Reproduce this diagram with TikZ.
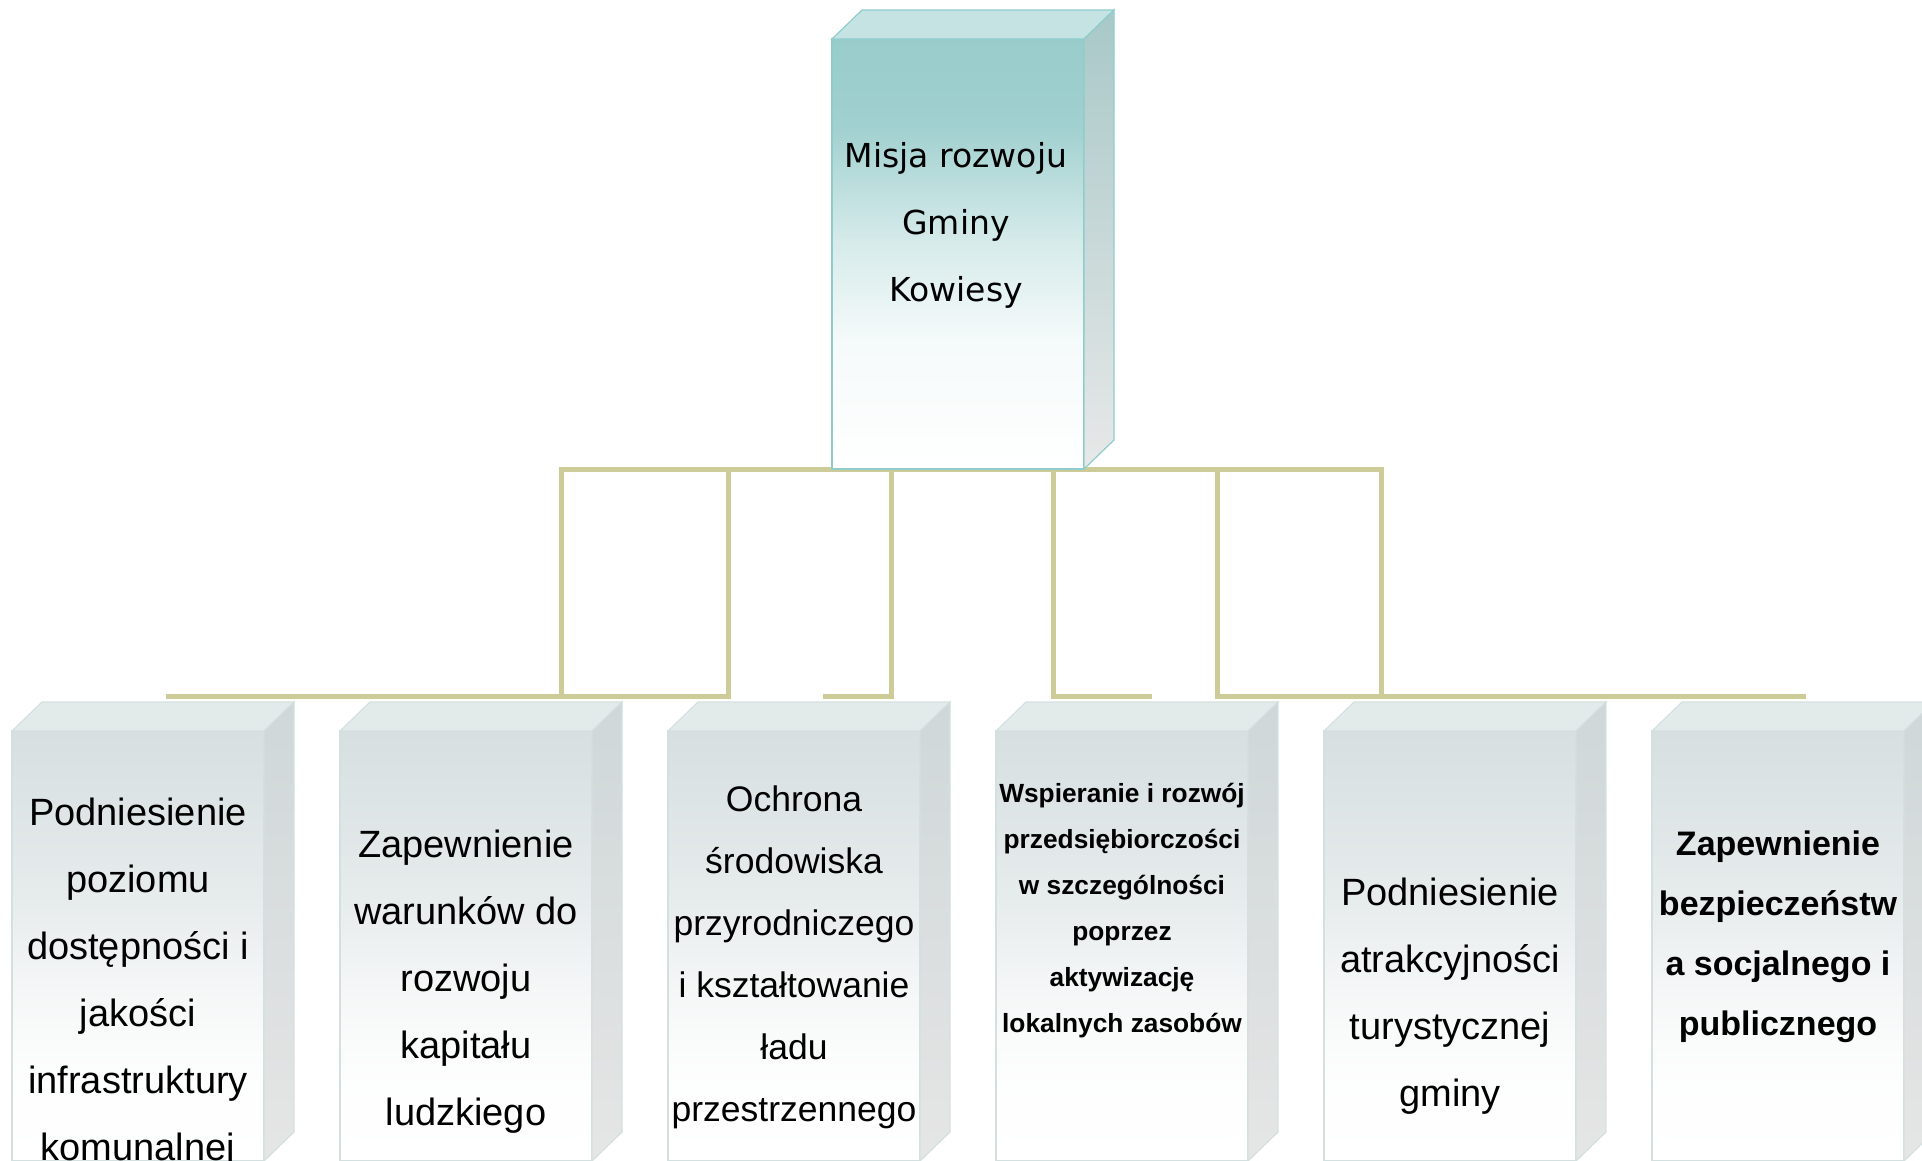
\documentclass[tikz,border=0pt]{standalone}
\usepackage{fontspec}
\setmainfont{Liberation Sans}
\newfontfamily\misjafont{DejaVu Sans}
\definecolor{szyna}{RGB}{205,204,153}
\definecolor{misjagora}{RGB}{152,204,203}
\definecolor{misjarama}{RGB}{143,205,205}
\definecolor{misjawieko}{RGB}{197,227,226}
\definecolor{misjabok}{RGB}{168,200,200}
\definecolor{celgora}{RGB}{215,223,224}
\definecolor{celrama}{RGB}{212,224,224}
\definecolor{celwieko}{RGB}{227,234,234}
\definecolor{celbok}{RGB}{207,215,216}
\pgfdeclareverticalshading{misjacien}{100bp}{color(0bp)=(white); color(25bp)=(white); color(40bp)=(misjagora!10!white); color(51.5bp)=(misjagora!40!white); color(65bp)=(misjagora!92!white); color(75bp)=(misjagora); color(100bp)=(misjagora)}
\pgfdeclareverticalshading{celcien}{100bp}{color(0bp)=(white); color(25bp)=(white); color(35bp)=(celgora!5!white); color(45bp)=(celgora!26!white); color(55bp)=(celgora!60!white); color(75bp)=(celgora); color(100bp)=(celgora)}

\begin{document}
\begin{tikzpicture}[x=1pt,y=-1pt,
  szyna/.style={draw=szyna,line width=5pt,line cap=rect},
  blok/.style={rectangle,inner sep=0pt,outer sep=0pt,minimum width=252pt,minimum height=430pt,line width=1.2pt},
  misja/.style={blok,draw=misjarama,shade,shading=misjacien},
  cel/.style={blok,draw=celrama,shade,shading=celcien},
  napis/.style={align=center,font=\fontsize{38}{67}\selectfont}]
  \useasboundingbox (0,0) rectangle (1922,1160);
  \clip (0,0) rectangle (1922,1160);

  % szyny
  \foreach \x [count=\i] in {561,728,891,1053,1217,1381} {
    \coordinate (g\i) at (\x,469);
    \coordinate (d\i) at (\x,696);
  }
  \coordinate (k1) at (168,696);
  \coordinate (k2) at (825,696);
  \coordinate (k3) at (1149,696);
  \coordinate (k4) at (1803,696);
  \draw[szyna] (g1) -- (g6);
  \foreach \i in {1,...,6} \draw[szyna] (g\i) -- (d\i);
  \draw[szyna] (k1) -- (d2);
  \draw[szyna] (k2) -- (d3);
  \draw[szyna] (d4) -- (k3);
  \draw[szyna] (d5) -- (k4);

  % misja
  \node[misja] (misja) at (958,254) {};
  \filldraw[fill=misjawieko,draw=misjarama,line width=1.2pt] (misja.north west) -- ++(30,-29) -- ([shift={(30,-29)}]misja.north east) -- (misja.north east) -- cycle;
  \shade[top color=misjabok,bottom color=gray!18,draw=misjarama,line width=1.2pt] (misja.north east) -- ++(30,-29) -- ([shift={(30,-29)}]misja.south east) -- (misja.south east) -- cycle;
  \node[napis,font=\misjafont\fontsize{33}{67}\selectfont] (m) at (956,225) {Misja rozwoju\\Gminy\\Kowiesy};

  % cele
  \foreach \i in {1,...,6} {
    \node[cel] (cel\i) at (138+328*\i-328,946) {};
    \filldraw[fill=celwieko,draw=celrama,line width=1.2pt] (cel\i.north west) -- ++(30,-29) -- ([shift={(30,-29)}]cel\i.north east) -- (cel\i.north east) -- cycle;
    \shade[top color=celbok,bottom color=gray!20,draw=celrama,line width=1.2pt] (cel\i.north east) -- ++(30,-29) -- ([shift={(30,-29)}]cel\i.south east) -- (cel\i.south east) -- cycle;
  }
  \node[napis] (n1) at (138,983) {Podniesienie\\poziomu\\dostępności i\\jakości\\infrastruktury\\komunalnej};
  \node[napis] (n2) at (466,982) {Zapewnienie\\warunków do\\rozwoju\\kapitału\\ludzkiego};
  \node[napis,font=\fontsize{35.5}{62}\selectfont] (n3) at (794,957) {Ochrona\\środowiska\\przyrodniczego\\i kształtowanie\\ładu\\przestrzennego};
  \node[napis,font=\bfseries\fontsize{26.3}{46}\selectfont] (n4) at (1122,911) {Wspieranie i rozwój\\przedsiębiorczości\\w szczególności\\poprzez\\aktywizację\\lokalnych zasobów};
  \node[napis] (n5) at (1450,996) {Podniesienie\\atrakcyjności\\turystycznej\\gminy};
  \node[napis,font=\bfseries\fontsize{34}{60}\selectfont] (n6) at (1778,937) {Zapewnienie\\bezpieczeństw\\a socjalnego i\\publicznego};
\end{tikzpicture}
\end{document}
